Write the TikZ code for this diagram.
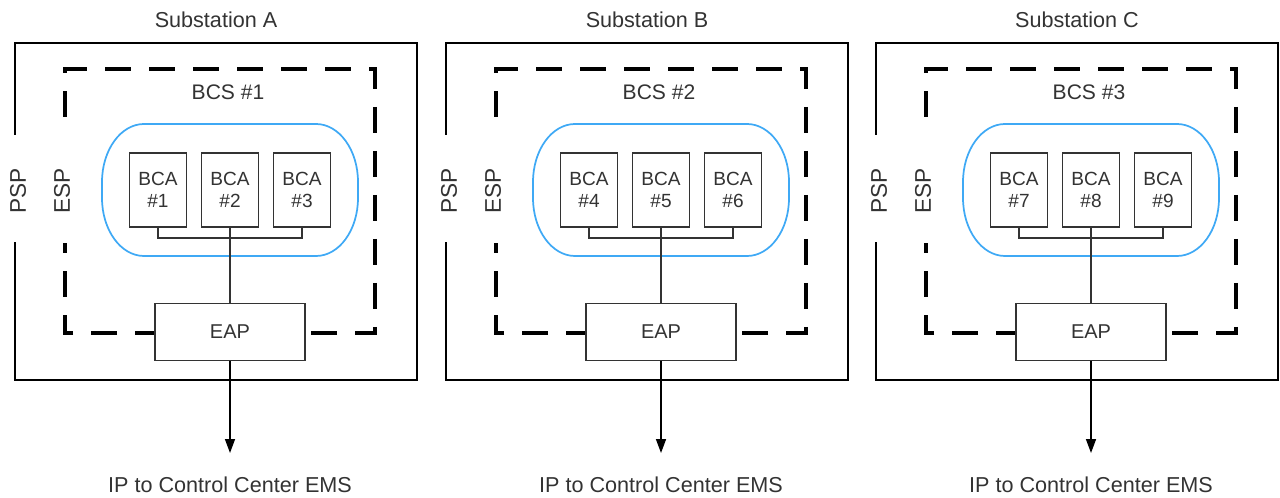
\documentclass[tikz,border=0pt]{standalone}
\usepackage{fontspec}
\setmainfont{Liberation Sans}
\usetikzlibrary{arrows.meta}
\definecolor{txt}{HTML}{333333}
\definecolor{bcsblue}{HTML}{3FA9F5}
\begin{document}
\begin{tikzpicture}[x=0.75pt,y=-0.75pt,
  lbl/.style={text=txt,font=\fontsize{16.2}{19}\selectfont,inner sep=0pt},
  sidelbl/.style={text=txt,font=\fontsize{17}{20}\selectfont,rotate=90,inner sep=0pt},
  pspline/.style={draw=black,line width=2.2pt},
  espline/.style={draw=black,line width=3.6pt,dash pattern=on 19.5pt off 13.5pt},
  bcsarea/.style={draw=bcsblue,line width=1.3pt},
  corner/.style={x radius=31.5pt,y radius=43.5pt},
  bcabox/.style={draw=txt,line width=1.1pt,fill=white,minimum width=42.75pt,minimum height=55.5pt,
    align=center,text=txt,font=\fontsize{14.3}{16.5}\selectfont,inner sep=0pt},
  eapbox/.style={draw=txt,line width=1.1pt,fill=white,minimum width=112.5pt,minimum height=42.75pt,
    text=txt,font=\fontsize{15}{18}\selectfont,inner sep=0pt},
  link/.style={draw=txt,line width=1.1pt},
  toems/.style={draw=black,line width=1.1pt,-{Triangle[width=7.5pt,length=10.5pt]}}]
\useasboundingbox (0,0) rectangle (1280,498);
\foreach \n/\o/\k in {A/0/1,B/431/2,C/861/3}{
  \pgfmathtruncatemacro\ba{3*\k-2}
  \pgfmathtruncatemacro\bb{3*\k-1}
  \pgfmathtruncatemacro\bc{3*\k}
  \begin{scope}[xshift={\o*0.75pt}]
    % titles
    \node[lbl] (title\n) at (216,20) {Substation \n};
    % PSP boundary
    \coordinate (pspa\n) at (15,135);
    \coordinate (pspb\n) at (15,242);
    \draw[pspline] (pspa\n) -- (15,43) -- (417,43) -- (417,380) -- (15,380) -- (pspb\n);
    \node[sidelbl] (psp\n) at (18,191) {PSP};
    % ESP boundary
    \coordinate (espa\n) at (65,117);
    \coordinate (espb\n) at (65,243);
    \draw[espline] (espa\n) -- (65,69) -- (375,69) -- (375,333) -- (65,333) -- (espb\n);
    \node[sidelbl] (esp\n) at (62,191) {ESP};
    % BCS
    \node[lbl,font=\fontsize{15.8}{19}\selectfont] (bcs\n) at (228,92) {BCS \#\k};
    \draw[bcsarea] (144,124) -- (316,124) arc[start angle=90,end angle=0,corner]
      -- (358,198) arc[start angle=0,end angle=-90,corner]
      -- (144,256) arc[start angle=270,end angle=180,corner]
      -- (102,182) arc[start angle=180,end angle=90,corner] -- cycle;
    \node[bcabox] (bcaa\n) at (158,190) {BCA\\\#\ba};
    \node[bcabox] (bcab\n) at (230,190) {BCA\\\#\bb};
    \node[bcabox] (bcac\n) at (302,190) {BCA\\\#\bc};
    \coordinate (bus\n) at (230,238);
    \draw[link] (bcaa\n.south) |- (bus\n) -| (bcac\n.south);
    % EAP
    \node[eapbox] (eap\n) at (230,332) {EAP};
    \draw[link] (bcab\n.south) -- (eap\n.north);
    % to EMS
    \node[lbl] (ems\n) at (230,485) {IP to Control Center EMS};
    \coordinate (tip\n) at (230,453);
    \draw[toems] (eap\n.south) -- (tip\n);
  \end{scope}
}
\end{tikzpicture}
\end{document}
